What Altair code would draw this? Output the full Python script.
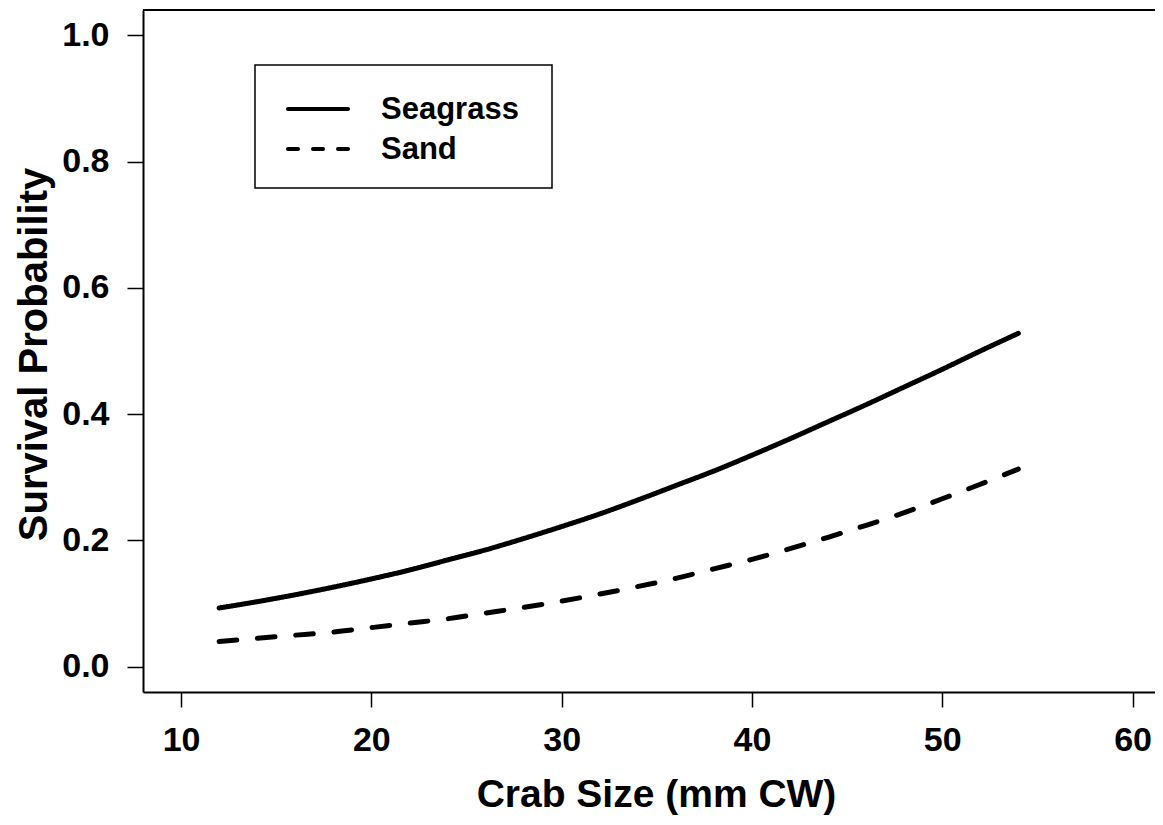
import altair as alt
import pandas as pd

# ---- data ----
x_mm = [12, 14, 16, 18, 20, 22, 24, 26, 28, 30, 32, 34, 36, 38, 40, 42, 44, 46, 48, 50, 52, 54]
seagrass = [0.093, 0.103, 0.114, 0.126, 0.139, 0.153, 0.169, 0.185, 0.203, 0.222, 0.242,
            0.264, 0.287, 0.310, 0.335, 0.361, 0.388, 0.415, 0.443, 0.471, 0.500, 0.528]
sand = [0.040, 0.045, 0.050, 0.055, 0.062, 0.069, 0.076, 0.085, 0.094, 0.104, 0.115,
        0.127, 0.140, 0.155, 0.170, 0.187, 0.205, 0.224, 0.244, 0.266, 0.289, 0.313]
series_names = ["Seagrass", "Sand"]
x_ticks = [10, 20, 30, 40, 50, 60]
y_ticks = [0.0, 0.2, 0.4, 0.6, 0.8, 1.0]

df = pd.DataFrame({
    "size": x_mm + x_mm,
    "prob": seagrass + sand,
    "habitat": [series_names[0]] * len(x_mm) + [series_names[1]] * len(x_mm),
})

W, H = 1012, 682
FONT = "Liberation Sans"

xscale = alt.Scale(domain=[8, 61.18], nice=False, zero=False)
yscale = alt.Scale(domain=[-0.04, 1.04], nice=False, zero=False)

x_axis = alt.Axis(
    values=x_ticks, format="d", grid=False,
    domainColor="black", domainWidth=2,
    tickColor="black", tickWidth=1.5, tickSize=15,
    labelFont=FONT, labelFontWeight="bold", labelFontSize=34, labelColor="black",
    labelPadding=16, labelFlush=False,
    title="Crab Size (mm CW)", titleFont=FONT, titleFontWeight="bold", titleFontSize=39,
    titleColor="black", titleX=513, titleY=114, titleBaseline="alphabetic", titleAlign="center",
)
y_axis = alt.Axis(
    values=y_ticks, format=".1f", grid=False,
    domainColor="black", domainWidth=2,
    tickColor="black", tickWidth=1.5, tickSize=16,
    labelFont=FONT, labelFontWeight="bold", labelFontSize=34, labelColor="black",
    labelPadding=18, labelFlush=False,
    title="Survival Probability", titleFont=FONT, titleFontWeight="bold", titleFontSize=40,
    titleColor="black", titleX=-97, titleY=344, titleAngle=270,
    titleBaseline="alphabetic", titleAlign="center",
)

lines = alt.Chart(df).mark_line(
    color="black", strokeWidth=5, strokeCap="round", interpolate="monotone"
).encode(
    x=alt.X("size:Q", scale=xscale, axis=x_axis),
    y=alt.Y("prob:Q", scale=yscale, axis=y_axis),
    detail="habitat:N",
    strokeDash=alt.StrokeDash(
        "habitat:N",
        scale=alt.Scale(domain=series_names, range=[[1, 0], [17.7, 20.7]]),
        legend=None,
    ),
)

one = pd.DataFrame({"k": [0]})

top_border = alt.Chart(one).mark_rule(color="black", strokeWidth=2).encode(
    x=alt.value(0), x2=alt.value(W), y=alt.value(0)
)

legend_box = alt.Chart(one).mark_rect(
    fill="white", stroke="black", strokeWidth=1.5
).encode(
    x=alt.value(112), x2=alt.value(409), y=alt.value(55), y2=alt.value(178)
)

legend_layers = []
dash_patterns = [[1, 0], [10, 15]]
for i, name in enumerate(series_names):
    ldf = pd.DataFrame({"label": [name]})
    yy = 99 + 40 * i
    legend_layers.append(
        alt.Chart(ldf).mark_rule(
            color="black", strokeWidth=4, strokeCap="round", strokeDash=dash_patterns[i]
        ).encode(x=alt.value(145), x2=alt.value(205), y=alt.value(yy))
    )
    legend_layers.append(
        alt.Chart(ldf).mark_text(
            align="left", baseline="middle", font=FONT, fontWeight="bold",
            fontSize=31, color="black"
        ).encode(x=alt.value(238), y=alt.value(yy + 1), text="label:N")
    )

chart = alt.layer(lines, top_border, legend_box, *legend_layers).properties(
    width=W, height=H,
    padding={"left": 135, "top": 2, "right": 0, "bottom": 125},
    autosize=alt.AutoSizeParams(type="none"),
    background="white",
).configure_view(stroke="transparent")

chart.save("out.html", embed_options={"renderer": "svg", "actions": False})
